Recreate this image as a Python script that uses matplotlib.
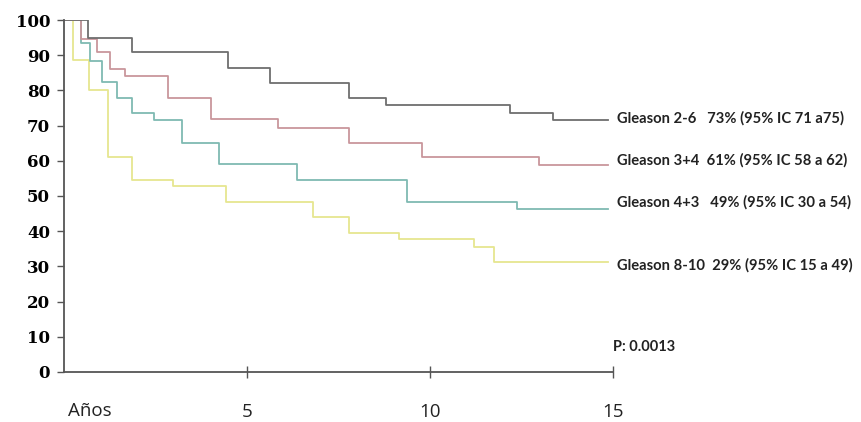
import matplotlib
matplotlib.use("Agg")
import matplotlib.pyplot as plt

# Kaplan-Meier step data (years, survival %)
t_2_6 = [0, 0.66, 1.86, 4.48, 5.63, 7.79, 8.80, 12.19, 13.36, 14.86]
s_2_6 = [100, 95.0, 90.8, 86.4, 82.1, 77.8, 75.9, 73.7, 71.6, 71.6]

t_3_4 = [0, 0.46, 0.89, 1.26, 1.67, 2.85, 4.03, 5.84, 7.79, 9.78, 12.98, 14.86]
s_3_4 = [100, 94.5, 90.8, 86.0, 84.0, 77.8, 71.8, 69.4, 65.1, 61.2, 58.8, 58.8]

t_4_3 = [0, 0.46, 0.70, 1.05, 1.44, 1.85, 2.46, 3.23, 4.24, 6.38, 9.37, 12.37, 14.86]
s_4_3 = [100, 93.5, 88.4, 82.3, 77.8, 73.5, 71.6, 65.1, 59.0, 54.5, 48.3, 46.2, 46.2]

t_8_10 = [0, 0.24, 0.69, 1.20, 1.85, 2.98, 4.44, 6.80, 7.79, 9.15, 11.20, 11.75, 14.86]
s_8_10 = [100, 88.6, 80.1, 61.1, 54.5, 52.9, 48.3, 44.0, 39.5, 37.8, 35.6, 31.3, 31.3]

labels = ["Gleason 2-6   73% (95% IC 71 a75)",
          "Gleason 3+4  61% (95% IC 58 a 62)",
          "Gleason 4+3   49% (95% IC 30 a 54)",
          "Gleason 8-10  29% (95% IC 15 a 49)"]
label_y = [72.2, 60.0, 48.3, 30.4]
colors = ["#6e6e6e", "#c9969c", "#7fbab2", "#e6e690"]

y_ticks = [0, 10, 20, 30, 40, 50, 60, 70, 80, 90, 100]
x_ticks = [5, 10, 15]
x_ticklabels = ["5", "10", "15"]
x_first_label = "Años"
p_text = "P: 0.0013"

fig = plt.figure(figsize=(8.62, 4.22), dpi=100)
ax = fig.add_axes([0.0742, 0.1185, 0.711 - 0.0742, 0.9526 - 0.1185])

series = [(t_2_6, s_2_6), (t_3_4, s_3_4), (t_4_3, s_4_3), (t_8_10, s_8_10)]
# draw pale first so dark lines sit on top
for (t, s), c in reversed(list(zip(series, colors))):
    ax.step(t, s, where="post", color=c, lw=1.3)

ax.set_xlim(0, 15)
ax.set_ylim(0, 100)
for sp in ["top", "right"]:
    ax.spines[sp].set_visible(False)
for sp in ["left", "bottom"]:
    ax.spines[sp].set_color("#555555")
    ax.spines[sp].set_linewidth(1.3)

ax.set_yticks(y_ticks)
ax.set_yticklabels([str(v) for v in y_ticks], fontfamily="DejaVu Serif",
                   fontweight="bold", fontsize=12)
ax.tick_params(axis="y", direction="out", length=5, width=1.0, color="#555555", pad=5)

ax.set_xticks(x_ticks)
ax.set_xticklabels(x_ticklabels, fontfamily="Open Sans", fontsize=13.5, color="#222222")
ax.tick_params(axis="x", direction="inout", length=9, width=1.0, color="#555555", pad=18)

ax.text(0.1, -0.11, x_first_label, transform=ax.get_xaxis_transform(),
        fontfamily="Open Sans", fontsize=13.5, color="#222222", ha="left", va="center")

for lab, yv in zip(labels, label_y):
    ax.text(15.1, yv, lab, fontfamily="Lato", fontweight="bold", fontsize=10.6,
            color="#222222", ha="left", va="center", clip_on=False)

ax.text(15.0, 7.1, p_text, fontfamily="Lato", fontweight="bold", fontsize=10.5,
        color="#222222", ha="left", va="center", clip_on=False)

fig.savefig("out.png", dpi=100)
